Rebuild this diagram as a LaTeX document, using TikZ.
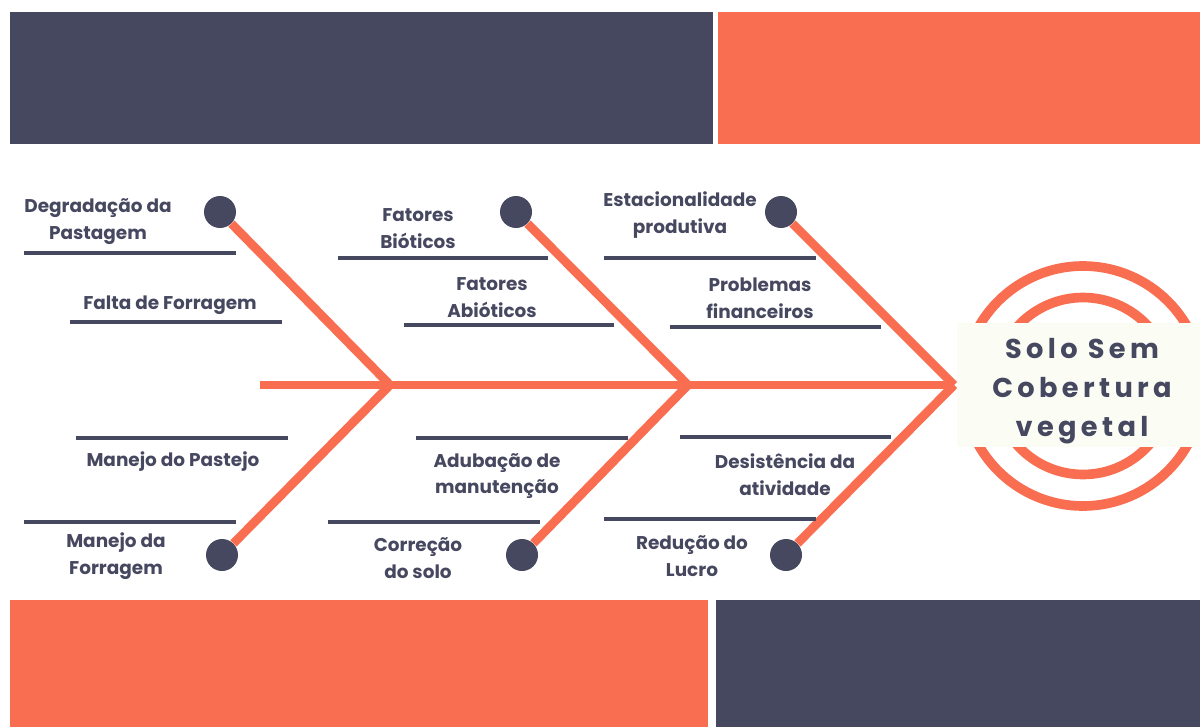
\documentclass[tikz,border=0pt]{standalone}
\usepackage{fontspec}
\setmainfont{Poppins}
\newfontfamily\titulofont[LetterSpace=16]{Poppins}
\usepackage{tikz}
\definecolor{escuro}{HTML}{464860}
\definecolor{laranja}{HTML}{F96D51}
\definecolor{claro}{HTML}{FBFDF5}
\tikzset{
  espinha/.style={laranja, line width=5pt},
  regua/.style={escuro, line width=2.2pt},
  ponto/.style={circle, fill=escuro, minimum size=0.64cm, inner sep=0pt},
  rotulo/.style={text=escuro, align=center, inner sep=0pt, font=\fontsize{10.5}{15.3}\selectfont\bfseries}
}

\begin{document}
\begin{tikzpicture}[x=0.02cm, y=-0.02cm]
\useasboundingbox (0,0) rectangle (1200,727);

% Faixas de fundo
\fill[escuro] (10,12) rectangle (713,144);
\fill[laranja] (718,12) rectangle (1200,144);
\fill[laranja] (10,600) rectangle (708,727);
\fill[escuro] (716,600) rectangle (1200,727);

% Cabeca do diagrama
\begin{scope}
\clip (0,0) rectangle (1200,727);
\draw[laranja, line width=5.5pt] (1083,386) circle [radius=2.4cm];
\draw[laranja, line width=5.5pt] (1083,386) circle [radius=1.77cm];
\end{scope}
\fill[claro] (957,323) rectangle (1200,447);
\node[text=escuro, align=center, font=\titulofont\fontsize{15.5}{22.2}\selectfont\bfseries] (efeito) at (1082,391) {Solo Sem\\Cobertura\\vegetal};

% Espinha principal
\coordinate (inicio) at (260,385);
\coordinate (j1) at (390,385);
\coordinate (j2) at (688,385);
\coordinate (j3) at (954,385);
\draw[espinha] (inicio) -- (j3);

% Pontos das causas
\node[ponto] (c1) at (220,212) {};
\node[ponto] (c2) at (222,555) {};
\node[ponto] (c3) at (516,212) {};
\node[ponto] (c4) at (522,555) {};
\node[ponto] (c5) at (781,212) {};
\node[ponto] (c6) at (786,555) {};

\draw[espinha] (c1) -- (j1);
\draw[espinha] (c2) -- (j1);
\draw[espinha] (c3) -- (j2);
\draw[espinha] (c4) -- (j2);
\draw[espinha] (c5) -- (j3);
\draw[espinha] (c6) -- (j3);

% Reguas abaixo e acima dos textos
\draw[regua] (24,253) -- (236,253);
\draw[regua] (338,258) -- (548,258);
\draw[regua] (604,258) -- (816,258);
\draw[regua] (70,322) -- (282,322);
\draw[regua] (404,325) -- (614,325);
\draw[regua] (670,327) -- (881,327);
\draw[regua] (76,438) -- (288,438);
\draw[regua] (416,438) -- (628,438);
\draw[regua] (680,437) -- (891,437);
\draw[regua] (24,522) -- (236,522);
\draw[regua] (328,522) -- (540,522);
\draw[regua] (604,519) -- (816,519);

% Textos
\node[rotulo] (t1) at (98,222) {Degradação da\\Pastagem};
\node[rotulo] (t2) at (170,305) {Falta de Forragem};
\node[rotulo] (t3) at (418,229) {Fatores\\Bióticos};
\node[rotulo] (t4) at (492,298) {Fatores\\Abióticos};
\node[rotulo] (t5) at (680,215) {Estacionalidade\\produtiva};
\node[rotulo] (t6) at (760,298) {Problemas\\financeiros};
\node[rotulo] (t7) at (173,462) {Manejo do Pastejo};
\node[rotulo] (t8) at (497,476) {Adubação de\\manutenção};
\node[rotulo] (t9) at (785,475) {Desistência da\\atividade};
\node[rotulo] (t10) at (116,556) {Manejo da\\Forragem};
\node[rotulo] (t11) at (418,558) {Correção\\do solo};
\node[rotulo] (t12) at (692,556) {Redução do\\Lucro};
\end{tikzpicture}
\end{document}
